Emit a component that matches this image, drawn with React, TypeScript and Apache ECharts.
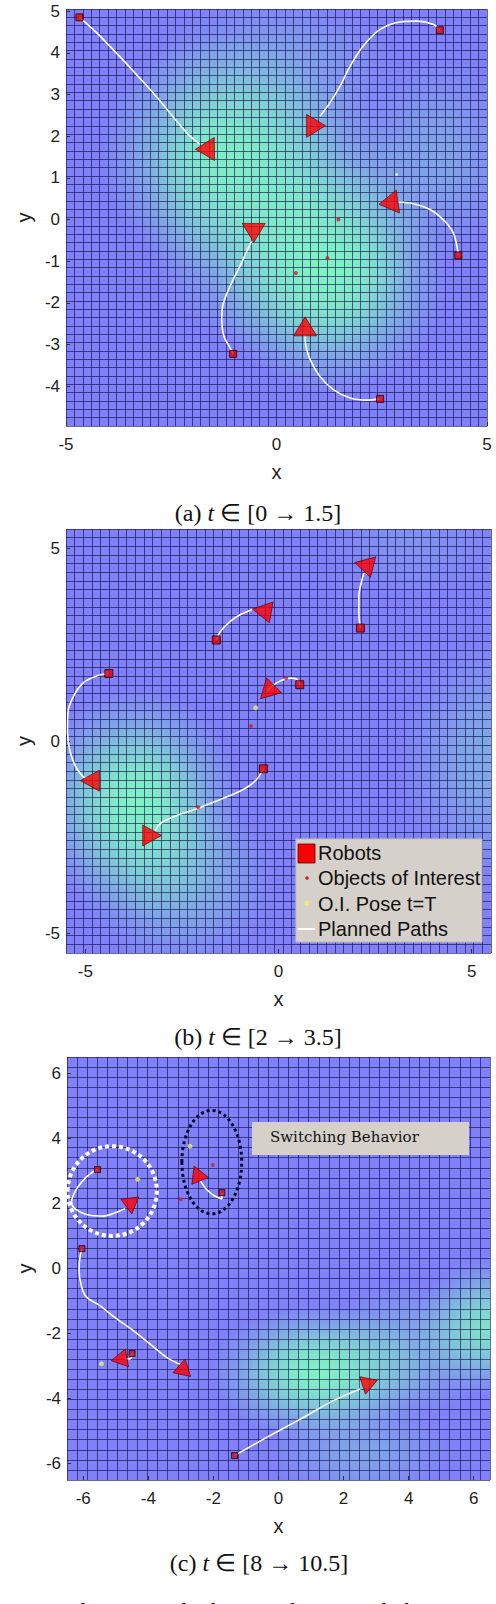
import React, { useEffect, useRef } from "react";
import * as echarts from "echarts";

// ---------------- Panel (a) t in [0 -> 1.5] ----------------
const aXTicks = [-5, 0, 5];
const aYTicks = [-4, -3, -2, -1, 0, 1, 2, 3, 4, 5];
const aRobots = [[-4.68, 4.85], [3.88, 4.54], [4.32, -0.86], [-1.03, -3.22], [2.46, -4.3]];
// [x, y, heading (deg, counter-clockwise from up)]
const aHeads = [[-1.7, 1.69, 91], [0.94, 2.25, -90], [2.66, 0.4, 98], [-0.54, -0.32, 180], [0.68, -2.56, 0]];
const aPaths = [
  [[-4.68, 4.85], [-4.19, 4.4], [-3.0, 3.12], [-2.13, 2.08], [-1.83, 1.82]],
  [[3.88, 4.54], [3.73, 4.68], [3.33, 4.76], [2.93, 4.74], [2.46, 4.56], [2.06, 4.16], [1.75, 3.68], [1.51, 3.2], [1.27, 2.8], [1.03, 2.48]],
  [[4.32, -0.86], [4.2, -0.32], [3.96, 0.0], [3.65, 0.24], [3.25, 0.38], [2.89, 0.42]],
  [[-1.03, -3.22], [-1.1, -3.08], [-1.25, -2.8], [-1.3, -2.4], [-1.28, -2.08], [-1.14, -1.68], [-1.03, -1.44], [-0.83, -1.04], [-0.67, -0.68], [-0.59, -0.52]],
  [[2.46, -4.3], [2.14, -4.33], [1.75, -4.28], [1.35, -4.08], [1.03, -3.76], [0.8, -3.36], [0.7, -3.04], [0.68, -2.76]],
];
const aObjects = [[1.47, 0.0], [1.21, -0.92], [0.46, -1.28]];
const aObjectsT = [[2.85, 1.08]];
// [cx, cy, rx, ry, strength]
const aBlobs = [
  [-1.3, 1.6, 2.9, 2.9, 0.85],
  [0.2, 0.1, 3.4, 3.4, 0.75],
  [1.3, -1.4, 2.8, 2.8, 0.9],
  [0.0, 3.5, 3.0, 2.0, 0.3],
  [3.8, 1.5, 2.0, 2.5, 0.3],
];

// ---------------- Panel (b) t in [2 -> 3.5] ----------------
const bXTicks = [-5, 0, 5];
const bYTicks = [-5, 0, 5];
const bRobots = [[2.12, 2.93], [-1.61, 2.62], [-4.39, 1.75], [0.55, 1.46], [-0.39, -0.72]];
const bHeads = [[2.21, 4.57, 76], [-0.43, 3.38, 80], [-4.88, -1.03, 90], [-3.27, -2.45, -90], [-0.29, 1.27, 135]];
const bPaths = [
  [[2.12, 2.93], [2.08, 3.32], [2.08, 3.75], [2.14, 4.1], [2.21, 4.36]],
  [[-1.61, 2.62], [-1.5, 2.85], [-1.24, 3.11], [-0.98, 3.28], [-0.68, 3.41]],
  [[-4.39, 1.75], [-4.7, 1.69], [-5.04, 1.52], [-5.3, 1.17], [-5.45, 0.74], [-5.46, 0.22], [-5.39, -0.29], [-5.22, -0.72], [-5.0, -0.98]],
  [[0.55, 1.46], [0.48, 1.6], [0.31, 1.63], [0.05, 1.56], [-0.16, 1.43], [-0.29, 1.3]],
  [[-0.39, -0.72], [-0.55, -0.98], [-0.81, -1.2], [-1.24, -1.41], [-1.67, -1.58], [-2.11, -1.76], [-2.63, -1.93], [-3.06, -2.14], [-3.19, -2.32]],
];
const bObjects = [[0.2, 1.63], [-0.71, 0.39], [-2.08, -1.72]];
const bObjectsT = [[-0.59, 0.86]];
const bBlobs = [
  [-3.7, -1.6, 2.7, 3.0, 0.95],
  [-2.6, -3.6, 2.6, 2.3, 0.45],
  [5.4, -0.5, 2.3, 3.2, 0.35],
  [3.5, 5.2, 2.5, 1.6, 0.15],
];
const bLegend = ["Robots", "Objects of Interest", "O.I. Pose t=T", "Planned Paths"];

// ---------------- Panel (c) t in [8 -> 10.5] ----------------
const cXTicks = [-6, -4, -2, 0, 2, 4, 6];
const cYTicks = [-6, -4, -2, 0, 2, 4, 6];
const cRobots = [[-5.56, 3.04], [-1.74, 2.33], [-6.04, 0.61], [-4.5, -2.61], [-1.35, -5.75]];
const cHeads = [[-4.54, 1.92, 187], [-2.5, 2.92, 22], [-4.9, -2.79, 100], [-2.92, -3.02, -12], [2.72, -3.62, 169]];
const cPaths = [
  [[-5.56, 3.04], [-5.79, 2.91], [-6.05, 2.66], [-6.26, 2.35], [-6.36, 2.04], [-6.26, 1.84], [-5.9, 1.66], [-5.38, 1.61], [-4.97, 1.73], [-4.72, 1.84]],
  [[-1.74, 2.33], [-1.74, 2.14], [-1.95, 2.22], [-2.2, 2.42], [-2.41, 2.71]],
  [[-6.04, 0.61], [-6.1, 0.35], [-6.13, -0.06], [-6.05, -0.57], [-5.9, -0.88], [-5.49, -1.14], [-4.97, -1.55], [-4.46, -1.91], [-3.95, -2.32], [-3.44, -2.73], [-3.03, -2.94]],
  [[-4.5, -2.61], [-4.56, -2.78], [-4.72, -2.78]],
  [[-1.35, -5.75], [-0.36, -5.19], [0.67, -4.63], [1.69, -4.06], [2.51, -3.7]],
];
const cObjects = [[-2.02, 3.18], [-3.0, 2.13]];
const cObjectsT = [[-2.72, 3.76], [-4.33, 2.74], [-5.44, -2.93]];
const cBlobs = [
  [1.2, -3.2, 3.3, 2.1, 0.95],
  [6.4, -1.8, 2.2, 2.1, 0.8],
  [3.8, -2.6, 2.6, 2.2, 0.4],
  [2.5, -5.6, 3.0, 1.6, 0.3],
];
// [cx, cy, rx, ry]
const cWhiteRing = [[-5.11, 2.38, 1.37, 1.38]];
const cBlackRing = [[-2.05, 3.27, 0.92, 1.59]];
const cNote = "Switching Behavior";

const captions = ["(a)", "(b)", "(c)"];
const captionRanges = ["[0 → 1.5]", "[2 → 3.5]", "[8 → 10.5]"];
const figureCaption = "2:  Simulation  studied  in  multi-agent  behavior";

const SANS = "Liberation Sans";
const SERIF = "Liberation Serif";

type Panel = {
  grid: { left: number; top: number; width: number; height: number };
  x: number[]; y: number[]; xt: number[]; yt: number[]; mesh: number;
  robots: number[][]; heads: number[][]; paths: number[][][];
  obj: number[][]; objT: number[][]; blobs: number[][];
  sq: number; tri: number[]; robotColor: string;
};

const panels: Panel[] = [
  { grid: { left: 66, top: 9, width: 421, height: 417 }, x: [-5, 5], y: [-4.95, 5.05], xt: aXTicks, yt: aYTicks, mesh: 50,
    robots: aRobots, heads: aHeads, paths: aPaths, obj: aObjects, objT: aObjectsT, blobs: aBlobs, sq: 7, tri: [23, 19], robotColor: "#e80000" },
  { grid: { left: 66, top: 529, width: 425, height: 424 }, x: [-5.5, 5.5], y: [-5.5, 5.5], xt: bXTicks, yt: bYTicks, mesh: 49,
    robots: bRobots, heads: bHeads, paths: bPaths, obj: bObjects, objT: bObjectsT, blobs: bBlobs, sq: 8, tri: [21, 19], robotColor: "#e80000" },
  { grid: { left: 67, top: 1057, width: 423, height: 423 }, x: [-6.5, 6.5], y: [-6.5, 6.5], xt: cXTicks, yt: cYTicks, mesh: 42,
    robots: cRobots, heads: cHeads, paths: cPaths, obj: cObjects, objT: cObjectsT, blobs: cBlobs, sq: 6, tri: [18, 16], robotColor: "#c8101c" },
];

function blobItem(params: any, api: any) {
  const c = api.coord([api.value(0), api.value(1)]);
  const s = api.size([api.value(2), api.value(3)]);
  const a = api.value(4);
  const g = (k: number) => `rgba(128,250,192,${(a * k).toFixed(3)})`;
  return {
    type: "ellipse",
    shape: { cx: c[0], cy: c[1], rx: s[0], ry: s[1] },
    style: {
      fill: new echarts.graphic.RadialGradient(0.5, 0.5, 0.5, [
        { offset: 0, color: g(1) },
        { offset: 0.25, color: g(0.88) },
        { offset: 0.5, color: g(0.6) },
        { offset: 0.75, color: g(0.25) },
        { offset: 1, color: g(0) },
      ]),
    },
  };
}

function ringItem(stroke: string, width: number, dash: number[]) {
  return (params: any, api: any) => {
    const c = api.coord([api.value(0), api.value(1)]);
    const s = api.size([api.value(2), api.value(3)]);
    return {
      type: "ellipse",
      shape: { cx: c[0], cy: c[1], rx: s[0], ry: s[1] },
      style: { fill: "none", stroke, lineWidth: width, lineDash: dash },
    };
  };
}

function buildOption() {
  const grid: any[] = [];
  const xAxis: any[] = [];
  const yAxis: any[] = [];
  const series: any[] = [];
  const tickLabel = { fontSize: 17, fontFamily: SANS, color: "#1e1e1e" };
  const nameStyle = { fontSize: 20, fontFamily: SANS, color: "#1e1e1e" };
  const meshLine = { show: true, lineStyle: { color: "rgba(15,15,75,0.62)", width: 1 } };

  panels.forEach((p, i) => {
    grid.push({ ...p.grid, show: true, backgroundColor: "#8080f8", borderWidth: 0 });
    const ax = 2 * i;
    xAxis.push({
      type: "value", gridIndex: i, min: p.x[0], max: p.x[1], position: "bottom", z: 3,
      axisLine: { show: false, onZero: false },
      axisTick: { show: true, inside: true, length: 4, customValues: p.xt, lineStyle: { color: "#333" } },
      axisLabel: { customValues: p.xt, margin: 10, ...tickLabel },
      splitLine: { show: false },
      name: "x", nameLocation: "middle", nameGap: 36, nameTextStyle: nameStyle,
    });
    xAxis.push({
      type: "value", gridIndex: i, min: 0, max: p.mesh, interval: 1, position: "top", z: 2,
      axisLine: { show: false, onZero: false }, axisTick: { show: false }, axisLabel: { show: false },
      splitLine: meshLine,
    });
    yAxis.push({
      type: "value", gridIndex: i, min: p.y[0], max: p.y[1], position: "left", z: 3,
      axisLine: { show: false, onZero: false },
      axisTick: { show: true, inside: true, length: 4, customValues: p.yt, lineStyle: { color: "#333" } },
      axisLabel: { customValues: p.yt, margin: 6, ...tickLabel },
      splitLine: { show: false },
      name: "y", nameLocation: "middle", nameGap: 28, nameTextStyle: nameStyle,
    });
    yAxis.push({
      type: "value", gridIndex: i, min: 0, max: p.mesh, interval: 1, position: "right", z: 2,
      axisLine: { show: false, onZero: false }, axisTick: { show: false }, axisLabel: { show: false },
      splitLine: meshLine,
    });

    const axes = { xAxisIndex: ax, yAxisIndex: ax };
    series.push({ type: "custom", ...axes, data: p.blobs, renderItem: blobItem, clip: true, z: 1, silent: true });
    p.paths.forEach((path) => {
      series.push({
        type: "line", ...axes, data: path, smooth: 0.35, symbol: "none", showSymbol: false,
        lineStyle: { color: "#ffffff", width: 1.6 }, z: 4, silent: true,
      });
    });
    series.push({
      type: "scatter", ...axes, symbol: "triangle", symbolSize: p.tri, z: 5,
      data: p.heads.map((h) => ({ value: [h[0], h[1]], symbolRotate: h[2] })),
      itemStyle: { color: "#ff0000", borderColor: "#5a0000", borderWidth: 0.8 },
    });
    series.push({
      type: "scatter", ...axes, symbol: "rect", symbolSize: p.sq, z: 6, data: p.robots,
      itemStyle: { color: p.robotColor, borderColor: "#220000", borderWidth: 1 },
    });
    series.push({
      type: "scatter", ...axes, symbol: "circle", symbolSize: 4, z: 6, data: p.obj,
      itemStyle: { color: "#d81a1a" },
    });
    series.push({
      type: "scatter", ...axes, symbol: "circle", symbolSize: i === 0 ? 3 : 5, z: 6, data: p.objT,
      itemStyle: { color: i === 0 ? "#f4f8e0" : "#eeea6a" },
    });
  });

  series.push({ type: "custom", xAxisIndex: 4, yAxisIndex: 4, data: cWhiteRing, renderItem: ringItem("#ffffff", 4, [4, 3]), z: 7, silent: true });
  series.push({ type: "custom", xAxisIndex: 4, yAxisIndex: 4, data: cBlackRing, renderItem: ringItem("#0a0a28", 3, [3, 3]), z: 7, silent: true });

  const capY = [513, 1037, 1563];
  const capX = [258, 258, 259];
  const graphic: any[] = [];
  capY.forEach((y, i) => {
    graphic.push({
      type: "text", x: capX[i], y, z: 10,
      style: {
        text: `{n|${captions[i]} }{i|t}{n| ∈ ${captionRanges[i]}}`,
        align: "center", verticalAlign: "middle",
        rich: {
          n: { fontSize: 24, fontFamily: SERIF, fill: "#111" },
          i: { fontSize: 24, fontFamily: SERIF, fontStyle: "italic", fill: "#111" },
        },
      },
    });
  });

  // legend in panel (b)
  const lx = 296, ly = 839;
  graphic.push({ type: "rect", z: 20, shape: { x: lx, y: ly, width: 186, height: 103 }, style: { fill: "#d5d1ca", stroke: "#c4c0b8", lineWidth: 1 } });
  graphic.push({ type: "rect", z: 21, shape: { x: lx + 2, y: ly + 5, width: 17, height: 19 }, style: { fill: "#ff0000", stroke: "#5a0000", lineWidth: 0.8 } });
  graphic.push({ type: "circle", z: 21, shape: { cx: lx + 11, cy: ly + 39, r: 1.8 }, style: { fill: "#d81a1a" } });
  graphic.push({ type: "circle", z: 21, shape: { cx: lx + 11, cy: ly + 64, r: 2.5 }, style: { fill: "#eeea6a" } });
  graphic.push({ type: "line", z: 21, shape: { x1: lx + 2, y1: ly + 90, x2: lx + 19, y2: ly + 90 }, style: { stroke: "#ffffff", lineWidth: 2 } });
  bLegend.forEach((t, k) => {
    graphic.push({
      type: "text", z: 21, x: lx + 22, y: ly + 14 + k * 25.3,
      style: { text: t, fontSize: 20, fontFamily: SANS, fill: "#111", verticalAlign: "middle", align: "left" },
    });
  });

  // note box in panel (c)
  graphic.push({ type: "rect", z: 20, shape: { x: 252, y: 1122, width: 217, height: 33 }, style: { fill: "#d5d1ca" } });
  graphic.push({
    type: "text", z: 21, x: 270, y: 1137,
    style: { text: cNote, fontSize: 15, fontFamily: "DejaVu Serif", fill: "#111", verticalAlign: "middle", align: "left" },
  });

  // figure caption, cut by the bottom edge as in the source figure
  graphic.push({
    type: "text", z: 10, x: -1, y: 1611,
    style: { text: figureCaption, fontSize: 24, fontFamily: SERIF, fill: "#111", verticalAlign: "middle", align: "left" },
  });

  return { animation: false, backgroundColor: "#ffffff", grid, xAxis, yAxis, series, graphic };
}

export default function App() {
  const ref = useRef<HTMLDivElement>(null);
  useEffect(() => {
    if (!ref.current) return;
    const chart = echarts.init(ref.current, undefined, { renderer: "svg" });
    chart.setOption(buildOption() as any);
    return () => chart.dispose();
  }, []);
  return <div ref={ref} style={{ position: "fixed", left: 0, top: 0, width: 496, height: 1604 }} />;
}
